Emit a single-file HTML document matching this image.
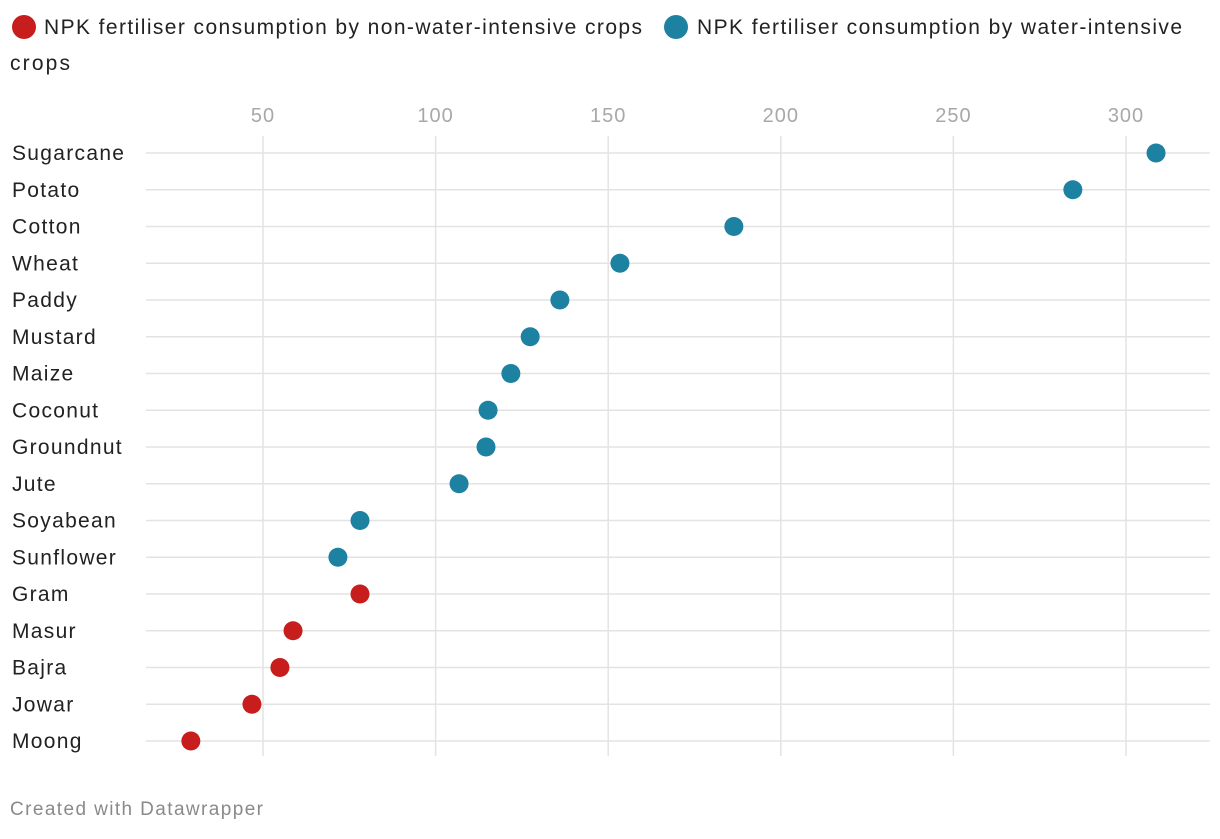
<!DOCTYPE html>
<html><head><meta charset="utf-8"><style>
body{margin:0;background:#fff;width:1220px;height:834px;overflow:hidden;font-family:"Liberation Sans",sans-serif;}
</style></head><body>
<svg width="1220" height="834" font-family="Liberation Sans, sans-serif">
<g>
<circle cx="24" cy="27" r="12" fill="#c71e1d"/>
<text x="44" y="34" font-size="21" fill="#222" textLength="598" lengthAdjust="spacing">NPK fertiliser consumption by non-water-intensive crops</text>
<circle cx="676" cy="27" r="12" fill="#1d81a2"/>
<text x="697" y="34" font-size="21" fill="#222" textLength="485" lengthAdjust="spacing">NPK fertiliser consumption by water-intensive</text>
<text x="10" y="70" font-size="21" fill="#222" textLength="60" lengthAdjust="spacing">crops</text>
</g>
<g id="grid"></g>
<g id="marks"></g>
<text x="10" y="815" font-size="19" fill="#8a8a8a" textLength="253" lengthAdjust="spacing">Created with Datawrapper</text>
</svg>
<script>
const categories=["Sugarcane","Potato","Cotton","Wheat","Paddy","Mustard","Maize","Coconut","Groundnut","Jute","Soyabean","Sunflower","Gram","Masur","Bajra","Jowar","Moong"];
const values=[308.7,284.6,186.4,153.4,136,127.4,121.8,115.2,114.6,106.8,78.1,71.7,78.1,58.7,54.9,46.8,29.1];
const groups=["w","w","w","w","w","w","w","w","w","w","w","w","n","n","n","n","n"];
const ticks=[50,100,150,200,250,300];
const NS="http://www.w3.org/2000/svg";
const x=v=>90.4+v*3.452;
const y=i=>153+i*36.75;
const grid=document.getElementById('grid'),marks=document.getElementById('marks');
function mk(tag,attrs,parent){const e=document.createElementNS(NS,tag);for(const k in attrs)e.setAttribute(k,attrs[k]);parent.appendChild(e);return e;}
ticks.forEach(t=>{
 const l=mk('line',{x1:x(t),x2:x(t),y1:136,y2:756,stroke:'#e3e3e3','stroke-width':1.5},grid);
 
 
 const tx=mk('text',{x:x(t),y:122,'text-anchor':'middle','font-size':20,fill:'#a8a8a8','letter-spacing':1},grid);
 tx.textContent=t;
 
 
});
categories.forEach((c,i)=>{
 const l=mk('line',{x1:146,x2:1210,y1:y(i),y2:y(i),stroke:'#e3e3e3','stroke-width':1.5},grid);
 
 
 const tx=mk('text',{x:12,y:y(i)+7,'font-size':21,fill:'#222','letter-spacing':1.3},grid);
 tx.textContent=c;
 
 
 const d=mk('circle',{cx:x(values[i]),cy:y(i),r:9.5,fill:groups[i]==='w'?'#1d81a2':'#c71e1d'},marks);
 
 
});
</script>
</body></html>
